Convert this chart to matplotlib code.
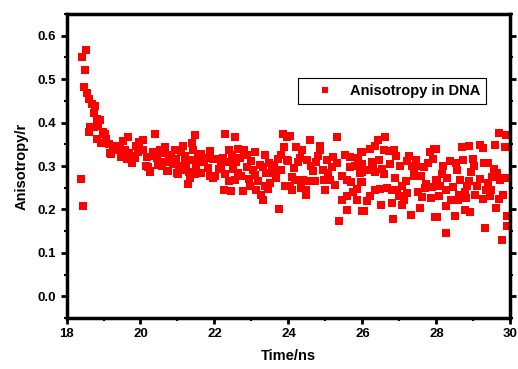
import matplotlib
matplotlib.use("Agg")
import matplotlib.pyplot as plt
from matplotlib.ticker import MultipleLocator

# time (ns) and anisotropy values
time_ns = [
    18.39, 18.45, 18.42, 18.51, 18.54, 18.48, 18.56, 18.60, 18.68, 18.78,
    18.74, 18.82, 18.91, 18.64, 18.73, 18.85, 18.61, 18.83, 18.94, 18.98,
    19.05, 19.07, 19.15, 19.21, 19.25, 19.34, 19.39, 19.48, 19.54, 19.59,
    19.67, 19.63, 19.76, 19.79, 19.88, 19.92, 19.97, 19.18, 19.30, 19.44,
    19.70, 19.85,
    20.39, 21.46, 20.08, 20.66, 21.15, 21.40, 20.08, 20.33, 20.52, 20.61,
    20.93, 21.10, 21.42, 21.64, 21.89, 20.17, 20.39, 20.77, 20.97, 21.19,
    21.37, 21.58, 21.78, 21.95, 20.48, 20.66, 20.88, 21.04, 21.24, 21.51,
    21.73, 20.15, 20.26, 20.72, 21.01, 21.31, 21.33, 21.46, 21.64, 21.87,
    21.28, 21.97, 20.20, 20.25, 20.74, 21.00, 20.44, 20.83, 21.20, 21.55,
    21.82, 20.58, 21.12,
    22.29, 22.56, 23.85, 23.96, 23.87, 22.40, 22.64, 22.80, 23.09, 23.36,
    22.87, 23.81, 22.06, 22.22, 22.38, 22.58, 23.72, 23.23, 23.48, 23.96,
    22.11, 22.51, 22.87, 23.03, 23.31, 23.56, 23.81, 22.02, 22.29, 22.64,
    22.73, 23.09, 23.58, 23.67, 22.38, 22.56, 23.18, 23.49, 22.96, 23.36,
    23.90, 22.26, 22.44, 22.76, 23.12, 23.45, 23.27, 23.31, 23.74, 22.17,
    22.70, 23.00, 23.40, 23.62, 22.47, 22.93,
    24.03, 25.32, 24.57, 24.21, 24.36, 24.85, 24.85, 24.81, 25.52, 25.66,
    25.88, 25.97, 24.00, 24.27, 24.51, 24.75, 25.03, 25.21, 25.30, 24.16,
    25.17, 25.66, 25.79, 24.66, 24.93, 25.93, 24.09, 24.18, 24.40, 24.54,
    24.72, 24.95, 25.12, 25.44, 25.57, 25.70, 25.95, 24.05, 24.34, 24.48,
    24.99, 25.84, 24.09, 24.48, 25.57, 25.44, 25.86, 25.57, 26.00, 25.37,
    24.62, 25.08, 25.25, 24.30, 25.75,
    26.62, 26.41, 26.35, 26.21, 26.57, 26.84, 26.71, 27.83, 27.94, 25.99,
    26.91, 27.27, 27.45, 27.90, 26.44, 27.20, 25.99, 27.78, 27.02, 27.33,
    27.65, 26.13, 26.29, 26.53, 25.99, 26.35, 26.59, 27.38, 27.38, 27.58,
    26.89, 27.18, 25.99, 28.00, 27.06, 27.87, 27.69, 26.35, 26.48, 26.66,
    26.80, 26.93, 27.20, 27.51, 26.21, 26.98, 27.60, 27.11, 27.84, 26.11,
    26.50, 26.80, 27.06, 27.56, 26.05, 27.96, 27.31, 26.82, 26.25, 26.75,
    27.45, 27.72,
    29.70, 29.88, 28.69, 28.87, 29.17, 29.26, 29.57, 29.86, 27.98, 28.72,
    28.99, 28.36, 28.18, 28.52, 29.28, 29.38, 29.02, 28.56, 29.56, 28.93,
    29.63, 28.29, 29.17, 29.50, 29.86, 28.63, 28.87, 29.72, 28.01, 28.09,
    28.45, 28.83, 29.10, 28.25, 29.35, 29.47, 29.81, 28.07, 28.40, 28.60,
    28.81, 29.05, 29.26, 29.44, 29.68, 28.58, 28.27, 29.61, 28.76, 28.92,
    28.01, 28.49, 29.90, 29.30, 28.25, 29.77, 29.92, 28.15, 28.78, 29.40,
]

anisotropy = [
    0.270, 0.209, 0.550, 0.522, 0.567, 0.483, 0.469, 0.455, 0.444, 0.439,
    0.421, 0.408, 0.405, 0.389, 0.389, 0.393, 0.378, 0.363, 0.352, 0.378,
    0.374, 0.362, 0.351, 0.328, 0.343, 0.347, 0.336, 0.320, 0.357, 0.336,
    0.366, 0.316, 0.306, 0.324, 0.347, 0.332, 0.355, 0.330, 0.338, 0.342,
    0.330, 0.318,
    0.374, 0.372, 0.359, 0.345, 0.347, 0.352, 0.336, 0.332, 0.336, 0.329,
    0.336, 0.332, 0.337, 0.328, 0.334, 0.320, 0.322, 0.313, 0.316, 0.322,
    0.314, 0.313, 0.319, 0.316, 0.303, 0.309, 0.305, 0.301, 0.303, 0.301,
    0.309, 0.299, 0.288, 0.288, 0.282, 0.286, 0.273, 0.282, 0.284, 0.278,
    0.259, 0.273, 0.297, 0.286, 0.288, 0.283, 0.318, 0.325, 0.310, 0.322,
    0.296, 0.300, 0.292,
    0.374, 0.368, 0.374, 0.366, 0.345, 0.336, 0.340, 0.337, 0.332, 0.326,
    0.326, 0.326, 0.316, 0.319, 0.309, 0.309, 0.316, 0.303, 0.307, 0.313,
    0.294, 0.294, 0.298, 0.290, 0.298, 0.294, 0.291, 0.278, 0.282, 0.284,
    0.276, 0.280, 0.284, 0.273, 0.265, 0.267, 0.265, 0.260, 0.253, 0.253,
    0.253, 0.245, 0.242, 0.242, 0.245, 0.248, 0.234, 0.221, 0.201, 0.300,
    0.318, 0.312, 0.285, 0.303, 0.325, 0.270,
    0.370, 0.366, 0.359, 0.345, 0.336, 0.347, 0.336, 0.324, 0.326, 0.320,
    0.319, 0.332, 0.311, 0.309, 0.313, 0.309, 0.313, 0.320, 0.307, 0.296,
    0.298, 0.298, 0.301, 0.288, 0.290, 0.284, 0.274, 0.267, 0.268, 0.265,
    0.265, 0.267, 0.268, 0.278, 0.268, 0.263, 0.263, 0.255, 0.250, 0.244,
    0.245, 0.248, 0.244, 0.234, 0.232, 0.221, 0.221, 0.199, 0.196, 0.173,
    0.300, 0.285, 0.256, 0.318, 0.240,
    0.368, 0.360, 0.347, 0.340, 0.336, 0.337, 0.334, 0.332, 0.340, 0.332,
    0.322, 0.322, 0.314, 0.316, 0.313, 0.311, 0.305, 0.307, 0.299, 0.299,
    0.298, 0.291, 0.298, 0.294, 0.286, 0.286, 0.282, 0.290, 0.278, 0.276,
    0.273, 0.265, 0.263, 0.267, 0.253, 0.251, 0.250, 0.244, 0.248, 0.250,
    0.244, 0.245, 0.237, 0.240, 0.232, 0.232, 0.228, 0.222, 0.227, 0.219,
    0.211, 0.214, 0.211, 0.204, 0.196, 0.182, 0.187, 0.177, 0.310, 0.305,
    0.300, 0.258,
    0.375, 0.372, 0.345, 0.347, 0.349, 0.342, 0.349, 0.345, 0.340, 0.314,
    0.316, 0.311, 0.299, 0.307, 0.307, 0.307, 0.301, 0.291, 0.293, 0.286,
    0.284, 0.273, 0.270, 0.274, 0.273, 0.267, 0.265, 0.268, 0.265, 0.255,
    0.251, 0.255, 0.255, 0.244, 0.245, 0.245, 0.234, 0.230, 0.222, 0.234,
    0.227, 0.234, 0.225, 0.230, 0.225, 0.221, 0.207, 0.204, 0.199, 0.194,
    0.182, 0.186, 0.163, 0.158, 0.146, 0.130, 0.186, 0.282, 0.240, 0.262,
]

plt.rcParams['font.family'] = ['Liberation Sans', 'DejaVu Sans']
plt.rcParams['font.weight'] = 'bold'

fig = plt.figure(figsize=(5.18, 3.69), dpi=100)
ax = fig.add_axes([0.1284, 0.138, 0.857, 0.824])

ax.plot(time_ns, anisotropy, 's', color='#ff0000', markersize=5.4,
        markeredgewidth=0, label='Anisotropy in DNA')

ax.set_xlim(18, 30)
ax.set_ylim(-0.05, 0.65)
ax.xaxis.set_major_locator(MultipleLocator(2))
ax.xaxis.set_minor_locator(MultipleLocator(1))
ax.set_yticks([0.0, 0.1, 0.2, 0.3, 0.4, 0.5, 0.6])
ax.set_yticklabels(['0.0', '0.1', '0.2', '0.3', '0.4', '0.5', '0.6'])
ax.yaxis.set_minor_locator(MultipleLocator(0.05))

for s in ax.spines.values():
    s.set_linewidth(2.5)
ax.tick_params(which='major', direction='out', length=4, width=2,
               labelsize=9.5, right=True, labelright=False)
ax.tick_params(which='minor', direction='out', length=2.5, width=1.5,
               right=True)

ax.set_xlabel('Time/ns', fontsize=10.5, fontweight='bold', labelpad=6)
ax.set_ylabel('Anisotropy/r', fontsize=10.5, fontweight='bold', labelpad=6)

leg = ax.legend(loc='upper right', bbox_to_anchor=(0.945, 0.79),
                borderaxespad=0, fancybox=False, framealpha=1,
                prop={'size': 10.5, 'weight': 'bold'}, handletextpad=0.25,
                markerscale=0.9, borderpad=0.4, handlelength=2.9)
leg.get_frame().set_edgecolor('black')
leg.get_frame().set_linewidth(0.8)

fig.savefig('out.png', dpi=100)
